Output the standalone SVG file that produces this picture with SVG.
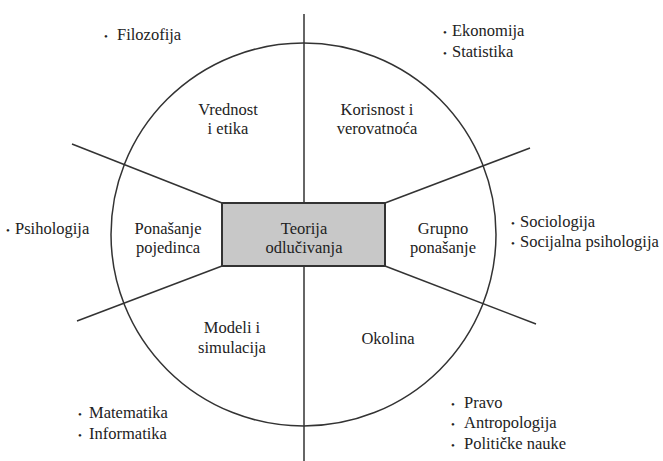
<svg xmlns="http://www.w3.org/2000/svg" width="663" height="461" viewBox="0 0 663 461">
<style>
.ln{stroke:#333;stroke-width:1.5;fill:none}
</style>
<rect width="663" height="461" fill="#fff"/>
<g id="connectors">
<ellipse class="ln" cx="303.5" cy="234.5" rx="192.5" ry="191.5"/>
<line class="ln" x1="304" y1="14" x2="304" y2="203"/>
<line class="ln" x1="304" y1="266" x2="304" y2="461"/>
<line class="ln" x1="72" y1="144" x2="222" y2="203"/>
<line class="ln" x1="530" y1="148" x2="385" y2="203"/>
<line class="ln" x1="77" y1="321" x2="222" y2="266"/>
<line class="ln" x1="536" y1="324" x2="385" y2="266"/>
</g>
<g font-family="'Liberation Serif', 'Times New Roman', serif" font-size="16.5" fill="#222">
<g id="center">
<rect x="222" y="203" width="163" height="63" fill="#c8c8c8" stroke="#333" stroke-width="2"/>
<text text-anchor="middle" x="304" y="234">Teorija</text>
<text text-anchor="middle" x="304" y="253">odlučivanja</text>
</g>
<g id="vrednost">
<text text-anchor="middle" x="228" y="115">Vrednost</text>
<text text-anchor="middle" x="228" y="134">i etika</text>
</g>
<g id="korisnost">
<text text-anchor="middle" x="377" y="115">Korisnost i</text>
<text text-anchor="middle" x="377" y="134">verovatnoća</text>
</g>
<g id="ponasanje">
<text text-anchor="middle" x="168" y="234">Ponašanje</text>
<text text-anchor="middle" x="168" y="253">pojedinca</text>
</g>
<g id="grupno">
<text text-anchor="middle" x="443" y="234">Grupno</text>
<text text-anchor="middle" x="443" y="253">ponašanje</text>
</g>
<g id="modeli">
<text text-anchor="middle" x="232" y="333">Modeli i</text>
<text text-anchor="middle" x="232" y="353">simulacija</text>
</g>
<g id="okolina">
<text text-anchor="middle" x="388" y="344">Okolina</text>
</g>
<g id="filozofija">
<text x="104" y="40"><tspan font-size="11">•</tspan><tspan x="117">Filozofija</tspan></text>
</g>
<g id="ekonomija">
<text x="443" y="36"><tspan font-size="11">•</tspan><tspan x="452">Ekonomija</tspan></text>
<text x="443" y="57"><tspan font-size="11">•</tspan><tspan x="452">Statistika</tspan></text>
</g>
<g id="psihologija">
<text x="6" y="234"><tspan font-size="11">•</tspan><tspan x="15">Psihologija</tspan></text>
</g>
<g id="sociologija">
<text x="511" y="227"><tspan font-size="11">•</tspan><tspan x="520">Sociologija</tspan></text>
<text x="511" y="247"><tspan font-size="11">•</tspan><tspan x="520">Socijalna psihologija</tspan></text>
</g>
<g id="matematika">
<text x="78" y="418"><tspan font-size="11">•</tspan><tspan x="89">Matematika</tspan></text>
<text x="78" y="439"><tspan font-size="11">•</tspan><tspan x="89">Informatika</tspan></text>
</g>
<g id="pravo">
<text x="451" y="408"><tspan font-size="11">•</tspan><tspan x="464">Pravo</tspan></text>
<text x="451" y="428"><tspan font-size="11">•</tspan><tspan x="464">Antropologija</tspan></text>
<text x="451" y="449"><tspan font-size="11">•</tspan><tspan x="464">Političke nauke</tspan></text>
</g>
</g>
</svg>
